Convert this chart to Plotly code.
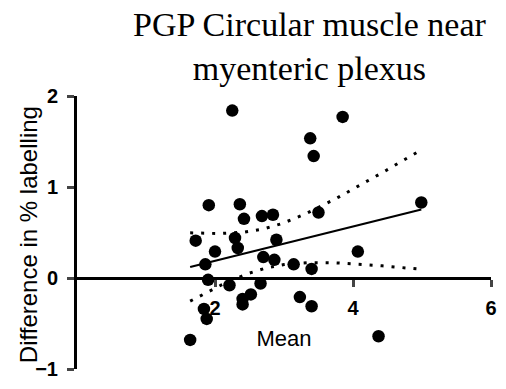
import numpy as np
import plotly.graph_objects as go

# Bland-Altman style data (mean, difference)
mean_vals = [2.25, 3.85, 3.38, 3.43, 1.91, 2.36, 2.42, 2.68, 2.84, 3.50, 4.99, 4.07,
             3.40, 3.23, 3.40, 1.72, 2.29, 2.33, 2.00, 2.89, 2.70, 2.86, 3.14, 1.86,
             1.90, 2.21, 2.66, 2.52, 2.40, 2.40, 1.84, 1.88, 1.64, 4.37]
diff_vals = [1.84, 1.77, 1.535, 1.34, 0.80, 0.81, 0.65, 0.68, 0.695, 0.72, 0.83, 0.29,
             0.10, -0.21, -0.31, 0.41, 0.44, 0.33, 0.29, 0.42, 0.23, 0.20, 0.15, 0.15,
             -0.02, -0.08, -0.06, -0.18, -0.23, -0.29, -0.34, -0.45, -0.68, -0.64]
x_ticks = [2, 4, 6]
y_ticks = [-1, 0, 1, 2]

x = np.array(mean_vals)
y = np.array(diff_vals)
n = len(x)
slope, intercept = np.polyfit(x, y, 1)
resid = y - (slope * x + intercept)
s = np.sqrt(np.sum(resid ** 2) / (n - 2))
t_crit = 2.037
xg = np.linspace(x.min(), x.max(), 60)
yg = slope * xg + intercept
se = s * np.sqrt(1 / n + (xg - x.mean()) ** 2 / np.sum((x - x.mean()) ** 2))
upper = yg + t_crit * se
lower = yg - t_crit * se

fig = go.Figure()
dot_line = dict(color="black", width=3, dash="3px,8px")
fig.add_trace(go.Scatter(x=xg, y=upper, mode="lines", line=dot_line, hoverinfo="skip"))
fig.add_trace(go.Scatter(x=xg, y=lower, mode="lines", line=dot_line, hoverinfo="skip"))
fig.add_trace(go.Scatter(x=xg, y=yg, mode="lines", line=dict(color="black", width=2.2)))
fig.add_trace(go.Scatter(x=mean_vals, y=diff_vals, mode="markers",
                         marker=dict(color="black", size=12.5, line=dict(width=0))))

tick_font = dict(family="Liberation Sans, Arial", size=20, color="black", weight="bold")

fig.add_annotation(
    text="PGP Circular muscle near<br>myenteric plexus",
    xref="paper", yref="paper", x=(313 - 77) / 420, y=1 + (96 - 1) / 282,
    xanchor="center", yanchor="top", showarrow=False,
    font=dict(family="Liberation Serif, Times New Roman", size=34, color="black"),
)
fig.add_annotation(
    text="Difference in % labelling",
    xref="paper", yref="paper", x=(28 - 77) / 420, y=(378 - 239) / 282,
    xanchor="center", yanchor="middle", showarrow=False, textangle=-90,
    font=dict(family="Liberation Sans, Arial", size=24, color="black"),
)

fig.update_layout(
    width=506, height=389,
    margin=dict(l=77, r=9, t=96, b=11),
    plot_bgcolor="white", paper_bgcolor="white",
    showlegend=False,
    xaxis=dict(range=[0, 6], tickvals=x_ticks, ticks="outside", ticklen=7, tickwidth=2.5,
               showline=True, linewidth=3, linecolor="black", showgrid=False, zeroline=False,
               anchor="free", position=1 / 3, tickfont=tick_font, ticklabelstandoff=4,
               title=dict(text="Mean", font=dict(family="Liberation Sans, Arial", size=22, color="black"),
                          standoff=12)),
    yaxis=dict(range=[-1, 2], tickvals=y_ticks, ticks="outside", ticklen=7, tickwidth=2.5,
               showline=True, linewidth=3, linecolor="black", showgrid=False, zeroline=False,
               tickfont=tick_font, domain=[0, 1], ticklabelstandoff=5),
)

fig.write_html("out.html")
